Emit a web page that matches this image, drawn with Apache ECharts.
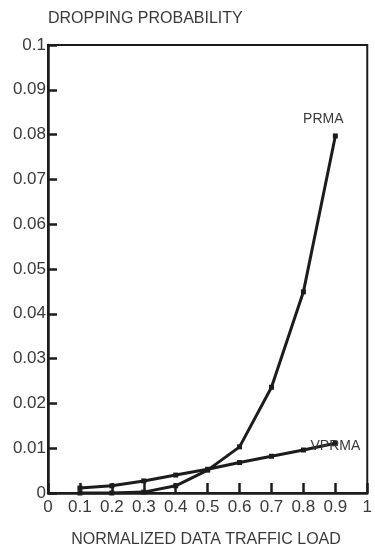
<!DOCTYPE html>
<html>
<head>
<meta charset="utf-8">
<script src="https://cdn.jsdelivr.net/npm/echarts@6/dist/echarts.min.js"></script>
<style>html,body{margin:0;padding:0;background:#fff}#c{width:375px;height:549px}</style>
</head>
<body>
<div id="c"></div>
<script>
var loads = [0.1, 0.2, 0.3, 0.4, 0.5, 0.6, 0.7, 0.8, 0.9];
var prma = [0.0, 0.0, 0.0002, 0.0016, 0.0051, 0.0103, 0.0236, 0.0449, 0.0797];
var vprma = [0.0011, 0.0016, 0.0027, 0.0040, 0.0053, 0.0068, 0.0082, 0.0096, 0.0111];
var yTitle = 'DROPPING PROBABILITY';
var xTitle = 'NORMALIZED DATA TRAFFIC LOAD';
var seriesNames = ['PRMA', 'VPRMA'];

function pairs(xs, ys) { return xs.map(function (x, i) { return [x, ys[i]]; }); }
var font = 'Liberation Sans, Arial, sans-serif';
var txt = '#3a3a3a';
var ink = '#1c1c1c';

function mkSeries(name, data, labelOpt) {
  var d = pairs(loads, data);
  var last = d.length - 1;
  return {
    name: name, type: 'line', data: d.map(function (p, i) {
      if (i === last) return { value: p, label: Object.assign({ show: true, formatter: name, color: txt, fontSize: 14, fontFamily: font }, labelOpt) };
      return p;
    }),
    symbol: 'rect', symbolSize: 5, showSymbol: true,
    lineStyle: { color: ink, width: 3 }, itemStyle: { color: ink },
    label: { show: false }, z: 3, animation: false
  };
}

var chart = echarts.init(document.getElementById('c'));
chart.setOption({
  animation: false,
  backgroundColor: '#fff',
  grid: { left: 48, right: 2, top: 45, bottom: 56, show: true, borderColor: ink, borderWidth: 2, backgroundColor: 'transparent' },
  graphic: [
    { type: 'text', left: 48, top: 11, style: { text: yTitle, font: '16px ' + font, fill: txt } },
    { type: 'text', x: 206, y: 540, style: { text: xTitle, font: '16px ' + font, fill: txt, textAlign: 'center', textVerticalAlign: 'middle' } }
  ],
  xAxis: {
    type: 'value', min: 0, max: 1, interval: 0.1,
    axisLine: { lineStyle: { color: ink, width: 2.5 } },
    axisTick: { inside: true, length: 10, lineStyle: { color: ink, width: 2.5 } },
    axisLabel: { color: txt, fontSize: 17, fontFamily: font, margin: 6 },
    splitLine: { show: false }
  },
  yAxis: {
    type: 'value', min: 0, max: 0.1, interval: 0.01,
    axisLine: { lineStyle: { color: ink, width: 2.5 } },
    axisTick: { inside: true, length: 9, lineStyle: { color: ink, width: 2.5 } },
    axisLabel: { color: txt, fontSize: 17, fontFamily: font, margin: 2 },
    splitLine: { show: false }
  },
  series: [
    mkSeries(seriesNames[0], prma, { position: 'top', offset: [-12, -2] }),
    mkSeries(seriesNames[1], vprma, { position: 'inside', offset: [0, 3] })
  ]
});
</script>
</body>
</html>
